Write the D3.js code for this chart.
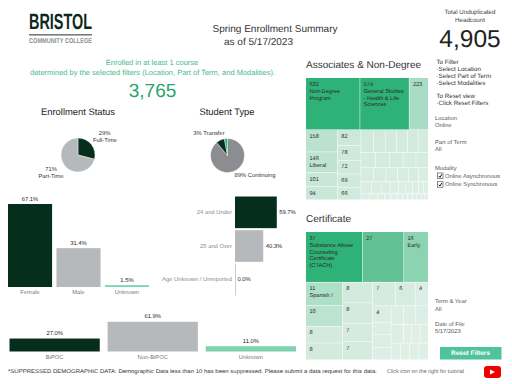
<!DOCTYPE html>
<html><head><meta charset="utf-8">
<script src="https://cdn.jsdelivr.net/npm/d3@7"></script>
<style>html,body{margin:0;padding:0;background:#fff;overflow:hidden}svg{display:block}text{font-family:"Liberation Sans",Arial,sans-serif;text-rendering:geometricPrecision}</style>
</head><body><svg id="c" width="512" height="384"></svg>
<script>
const enrollLabels=["Full-Time","Part-Time"];
const enrollValues=[29,71];
const typeLabels=["Continuing","Other","Transfer"];
const typeValues=[89,8,3];
const genderCats=["Female","Male","Unknown"];
const genderVals=[67.1,31.4,1.5];
const ageCats=["24 and Under","25 and Over","Age Unknown / Unreported"];
const ageVals=[59.7,40.3,0.0];
const raceCats=["BiPOC","Non-BiPOC","Unknown"];
const raceVals=[27.0,61.9,11.0];
const assocTop=[632,574,223];
const assocTopNames=["Non-Degree\nProgram","General Studies\n- Health & Life\nSciences",""];
const assocCol1=[158,146,101,94];
const assocCol1Names=["","Liberal","",""];
const assocCol2=[82,78,72,69,66];
const assocRow1=[64,60,58,56,54,52];
const assocRow2=[50,48,46,44,42];
const assocRow3=[40,38,36,34,32,30];
const assocRow4=[28,26,24,22,20,18,16,14,12];
const assocRow5=[12,11,10,9,8,8,7,7,6,6,5,5];
const certTop=[37,27,16];
const certTopNames=["Substance Abuse\nCounseling\nCertificate\n(CTACH)","","Early"];
const certCol1=[11,10,8,8];
const certCol1Names=["Spanish /","","",""];
const certCol2=[8,8,7,7];
const certRow1=[7,6,4];
const certCol3=[4,3,3,3];
const certRow2=[3,3,3];
const certRow3=[3,2,2,2];
const certRow4=[2,2,2,2];
const filterLines=["To Filter","·Select Location","·Select Part of Term","·Select Modalities"];
const resetLines=["To Reset view","·Click Reset Filters"];
const modalities=["Online Asynchronous","Online Synchronous"];

const DARK="#062e1c",GRAY="#b5b9bb",MINT="#7fd3ae",PIEGRAY="#8b8d90",GREEN="#2fb277";
const svg=d3.select("#c");
function txt(x,y,s,o={}){
  return svg.append("text").attr("x",x).attr("y",y).text(s)
   .attr("font-size",o.size||6).attr("fill",o.fill||"#333")
   .attr("text-anchor",o.anchor||"start").attr("font-weight",o.weight||"normal")
   .attr("dominant-baseline","middle");
}
// logo
txt(29,23,"BRISTOL",{size:22,weight:"bold",fill:"#10281b"}).attr("textLength",63).attr("lengthAdjust","spacingAndGlyphs");
svg.append("rect").attr("x",29).attr("y",34).attr("width",63).attr("height",1.6).attr("fill","#777d7a");
txt(29,41,"COMMUNITY COLLEGE",{size:7,fill:"#8a8f8c",weight:"bold"}).attr("textLength",63).attr("lengthAdjust","spacingAndGlyphs");
// titles
txt(275,29.5,"Spring Enrollment Summary",{size:10,anchor:"middle",fill:"#333"});
txt(258.5,42.5,"as of 5/17/2023",{size:10,anchor:"middle",fill:"#333"});
txt(152,63.5,"Enrolled in at least 1 course",{size:7.5,anchor:"middle",fill:"#49b98b"});
txt(152.5,73,"determined by the selected filters (Location, Part of Term, and Modalities).",{size:7.5,anchor:"middle",fill:"#49b98b"});
txt(152.5,92,"3,765",{size:19,anchor:"middle",fill:"#27a56c"});
txt(78,112.5,"Enrollment Status",{size:9.4,anchor:"middle",fill:"#222"});
txt(227,112.5,"Student Type",{size:9.4,anchor:"middle",fill:"#222"});
// pies
const pie=d3.pie().sort(null);
const arc=d3.arc().innerRadius(0).outerRadius(17);
function drawPie(cx,cy,vals,cols){
  svg.append("g").attr("transform",`translate(${cx},${cy})`).selectAll("path").data(pie(vals)).join("path")
    .attr("d",arc).attr("fill",(d,i)=>cols[i]).attr("stroke","#fff").attr("stroke-width",.4);
}
drawPie(78,155,enrollValues,[DARK,GRAY]);
drawPie(227.5,155.5,typeValues,[PIEGRAY,DARK,"#2fb277"]);
txt(104.5,133.5,enrollValues[0]+"%",{size:5.8,anchor:"middle"});
txt(105,140.5,enrollLabels[0],{size:5.8,anchor:"middle"});
txt(51,169,enrollValues[1]+"%",{size:5.8,anchor:"middle"});
txt(51,176,enrollLabels[1],{size:5.8,anchor:"middle"});
txt(209,133.5,typeValues[2]+"% "+typeLabels[2],{size:5.8,anchor:"middle"});
txt(255,175,typeValues[0]+"% "+typeLabels[0],{size:5.8,anchor:"middle"});
// gender bars
const barCols=[DARK,GRAY,MINT];
function vBars(x0,x1,base,pxPer,cats,vals,pad,labY){
  const x=d3.scaleBand().domain(cats).range([x0,x1]).paddingInner(pad);
  const y=d3.scaleLinear().domain([0,100]).range([base,base-100*pxPer]);
  const g=svg.append("g");
  g.selectAll("rect").data(vals).join("rect")
   .attr("x",(d,i)=>x(cats[i])).attr("width",x.bandwidth())
   .attr("y",d=>y(d)).attr("height",d=>base-y(d)).attr("fill",(d,i)=>barCols[i]);
  vals.forEach((d,i)=>{
    txt(x(cats[i])+x.bandwidth()/2,y(d)-5,d.toFixed(1)+"%",{size:5.8,anchor:"middle",fill:"#222"});
    txt(x(cats[i])+x.bandwidth()/2,labY,cats[i],{size:5.8,anchor:"middle",fill:"#777"});
  });
}
vBars(8,149,287,1.237,genderCats,genderVals,.09,292.5);
vBars(9.5,296,351.5,.48,raceCats,raceVals,.08,357);
// age bars
(function(){
  const y=d3.scaleBand().domain(ageCats).range([196.5,295.5]).paddingInner(.06);
  const x=d3.scaleLinear().domain([0,100]).range([235,305]);
  const cols=[DARK,GRAY,GRAY];
  svg.append("g").selectAll("rect").data(ageVals).join("rect")
   .attr("x",x(0)).attr("y",(d,i)=>y(ageCats[i])).attr("height",y.bandwidth())
   .attr("width",d=>Math.max(x(d)-x(0),.7)).attr("fill",(d,i)=>cols[i]);
  ageVals.forEach((d,i)=>{
    const m=y(ageCats[i])+y.bandwidth()/2;
    txt(232,m,ageCats[i],{size:5.8,anchor:"end",fill:"#888"});
    txt(x(d)+2.5,m,d.toFixed(1)+"%",{size:5.8,fill:"#222"});
  });
})();
// footnote
txt(8,371.5,"*SUPPRESSED DEMOGRAPHIC DATA: Demographic Data less than 10 has been suppressed. Please submit a data request for this data.",{size:5.4,fill:"#333"}).attr("textLength",369).attr("lengthAdjust","spacingAndGlyphs");
txt(387,372,"Click icon on the right for tutorial",{size:5.4,fill:"#666"});
svg.append("rect").attr("x",484).attr("y",366).attr("width",17).attr("height",12).attr("rx",3).attr("fill","#f00000");
svg.append("path").attr("d",d3.line()([[490,369.5],[490,374.5],[495,372]])).attr("fill","#fff");
// right panel
txt(470,12.5,"Total Unduplicated",{size:6.2,anchor:"middle",fill:"#444"});
txt(470,20,"Headcount",{size:6.2,anchor:"middle",fill:"#444"});
txt(470,40.5,"4,905",{size:24.5,anchor:"middle",fill:"#222"});
txt(306,65,"Associates & Non-Degree",{size:10,fill:"#333"});
txt(306,219.5,"Certificate",{size:10,fill:"#333"});
filterLines.forEach((s,i)=>txt(436.5,62+i*7,s,{size:6.2,fill:"#333"}));
resetLines.forEach((s,i)=>txt(436.5,96+i*7,s,{size:6.2,fill:"#333"}));
[["Location",118],["Online",125],["Part of Term",142],["All",149],["Modality",168],["Term & Year",301.5],["All",309],["Date of File",324.5],["5/17/2023",331.5]].forEach(d=>txt(435,d[1],d[0],{size:5.8,fill:"#555"}));
modalities.forEach((s,i)=>{
  const y=176+i*8.7;
  svg.append("rect").attr("x",437.5).attr("y",y-3).attr("width",5.5).attr("height",5.5).attr("fill","#fff").attr("stroke","#555").attr("stroke-width",.7);
  svg.append("path").attr("d",d3.line()([[438.8,y],[440,y+1.3],[441.8,y-1.7]])).attr("fill","none").attr("stroke","#111").attr("stroke-width",1);
  txt(445,y,s,{size:5.8,fill:"#555"});
});
svg.append("rect").attr("x",440).attr("y",347).attr("width",61.5).attr("height",12.5).attr("fill","#4fc39a");
txt(470.5,353.5,"Reset Filters",{size:6.5,anchor:"middle",fill:"#fff",weight:"bold"});
// treemaps
function leaf(vals,names){return vals.map((v,i)=>({value:v,name:names?names[i]:""}));}
function group(dir,children){return {dir,children};}
function drawTree(root,x0,y0,x1,y1,color,labelMin){
  const h=d3.hierarchy(root).sum(d=>d.value||0);
  d3.treemap().size([x1-x0,y1-y0]).round(false).tile((n,a,b,c,e)=>{
    (n.data.dir==="x"?d3.treemapDice:d3.treemapSlice)(n,a,b,c,e);
  })(h);
  const g=svg.append("g").attr("transform",`translate(${x0},${y0})`);
  g.selectAll("rect").data(h.leaves()).join("rect")
    .attr("x",d=>d.x0).attr("y",d=>d.y0)
    .attr("width",d=>Math.max(d.x1-d.x0-.5,.3)).attr("height",d=>Math.max(d.y1-d.y0-.5,.3))
    .attr("fill",d=>color(d.value));
  h.leaves().forEach(d=>{
    if(d.value<labelMin)return;
    const lines=[String(d.value)].concat(d.data.name?d.data.name.split("\n"):[]);
    lines.forEach((s,i)=>{
      g.append("text").attr("x",d.x0+3.5).attr("y",d.y0+6.5+i*6.8).attr("dominant-baseline","middle")
       .attr("font-size",5.6).attr("fill","#2a2a2a").text(s);
    });
  });
}
const assocTree=group("y",[
  group("x",leaf(assocTop,assocTopNames)),
  group("x",[
    group("y",leaf(assocCol1,assocCol1Names)),
    group("y",leaf(assocCol2)),
    group("y",[assocRow1,assocRow2,assocRow3,assocRow4,assocRow5].map(r=>group("x",leaf(r))))
  ])
]);
const certTree=group("y",[
  group("x",leaf(certTop,certTopNames)),
  group("x",[
    group("y",leaf(certCol1,certCol1Names)),
    group("y",leaf(certCol2)),
    group("y",[
      group("x",leaf(certRow1)),
      group("x",[
        group("y",leaf(certCol3)),
        group("y",[certRow2,certRow3,certRow4].map(r=>group("x",leaf(r))))
      ])
    ])
  ])
]);
const light="#deefe6";
const cA=d3.scaleLinear().domain([5,120,223,560]).range([light,"#c5e5d6","#a9dcc4",GREEN]).clamp(true);
const cC=d3.scaleLinear().domain([2,8,11,16,27,37]).range([light,"#d4eadf","#aedfc7","#8cd3b1","#62c194",GREEN]).clamp(true);
drawTree(assocTree,306,78,428.5,200,cA,66);
drawTree(certTree,306,232,428.5,360,cC,4);
</script></body></html>
